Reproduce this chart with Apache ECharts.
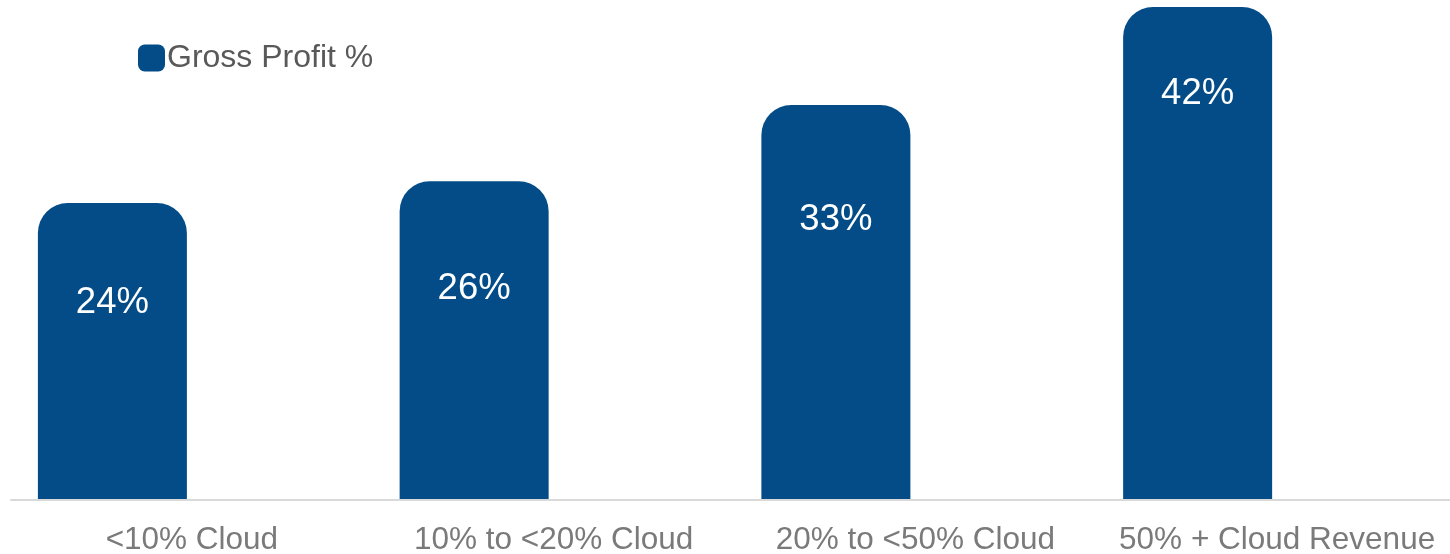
<!DOCTYPE html>
<html>
<head>
<meta charset="utf-8">
<script src="https://cdn.jsdelivr.net/npm/echarts@6/dist/echarts.min.js"></script>
<style>
html,body{margin:0;padding:0;background:#fff;}
#chart{width:1450px;height:554px;}
</style>
</head>
<body>
<div id="chart"></div>
<script>
// Data
var categories = ['<10% Cloud', '10% to <20% Cloud', '20% to <50% Cloud', '50% + Cloud Revenue'];
var seriesName = 'Gross Profit %';
var grossProfit = [24, 26, 33, 42];

// Style: vertical offset of each value label from its bar top (px)
var labelOffsetsPx = [100, 108, 115, 87];

var AXIS_MIN = -3.3;
var AXIS_MAX = 42;
var BAR_COLOR = '#034C87';

var chart = echarts.init(document.getElementById('chart'), null, {renderer: 'canvas'});

var dataItems = grossProfit.map(function (v, i) {
  return {
    value: v,
    label: { position: ['50%', labelOffsetsPx[i]] }
  };
});

var option = {
  animation: false,
  backgroundColor: '#ffffff',
  textStyle: { fontFamily: 'Liberation Sans, Arial, sans-serif' },
  legend: {
    data: [seriesName],
    left: 133,
    top: 37,
    itemWidth: 27,
    itemHeight: 27,
    icon: 'roundRect',
    textStyle: { color: '#595959', fontSize: 32, fontFamily: 'Liberation Sans, Arial, sans-serif', padding: [0, 0, 0, -3] }
  },
  grid: { left: 11, width: 1447, top: 7, bottom: 54, containLabel: false, outerBoundsMode: 'none' },
  xAxis: {
    type: 'category',
    data: categories,
    axisLine: { show: true, onZero: false, lineStyle: { color: '#D9D9D9', width: 2 } },
    axisTick: { show: false },
    axisLabel: {
      interval: 0,
      color: '#7A7A7A',
      fontSize: 31.5,
      margin: 24,
      fontFamily: 'Liberation Sans, Arial, sans-serif'
    },
    z: 10
  },
  yAxis: {
    type: 'value',
    min: AXIS_MIN,
    max: AXIS_MAX,
    startValue: AXIS_MIN,
    show: false,
    splitLine: { show: false }
  },
  series: [
    {
      name: seriesName,
      type: 'bar',
      data: dataItems,
      barWidth: 149,
      barGap: '6.7%',
      itemStyle: { color: BAR_COLOR, borderRadius: [30, 30, 0, 0] },
      label: {
        show: true,
        align: 'center',
        verticalAlign: 'middle',
        color: '#ffffff',
        fontSize: 36.5,
        fontFamily: 'Liberation Sans, Arial, sans-serif',
        formatter: function (p) { return p.value + '%'; }
      }
    },
    {
      name: 'spacer',
      type: 'bar',
      data: grossProfit.map(function () { return null; }),
      barWidth: 149,
      itemStyle: { color: 'transparent' },
      silent: true
    }
  ]
};

chart.setOption(option);
</script>
</body>
</html>
